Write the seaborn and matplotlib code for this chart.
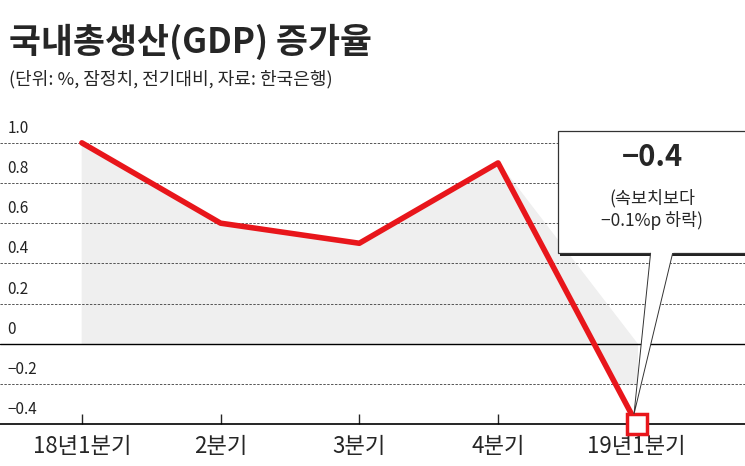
import matplotlib.pyplot as plt
import matplotlib.transforms as mtrans
from matplotlib.patches import Rectangle, Polygon
import numpy as np
import seaborn as sns

quarters = ['18년1분기', '2분기', '3분기', '4분기', '19년1분기']
growth = [1.0, 0.6, 0.5, 0.9, -0.4]
yticks = [1.0, 0.8, 0.6, 0.4, 0.2, 0, -0.2, -0.4]
ytick_labels = ['1.0', '0.8', '0.6', '0.4', '0.2', '0', '−0.2', '−0.4']

sns.set_style('white')
plt.rcParams['font.family'] = ['Noto Sans CJK KR', 'DejaVu Sans']
plt.rcParams['axes.unicode_minus'] = False

fig = plt.figure(figsize=(7.45, 4.66), dpi=100)
ax = fig.add_axes([0, 0.09, 1, 0.638])
x = np.arange(len(quarters))
y = np.array(growth)

# grey fill under the line, plus the small piece below zero at the end
ax.fill_between(x, np.maximum(y, 0), 0, color='#efefef', zorder=0,
                interpolate=True)
yy = np.array([-0.2, 0])
xx = np.interp(yy, y[3:][::-1], x[3:][::-1])
ax.fill_betweenx(yy, xx, x[-1], color='#efefef', zorder=0)

for v in yticks:
    if v == 0:
        ax.axhline(v, color='black', lw=1.0, zorder=1)
    elif v != -0.4:
        ax.axhline(v, color='#555555', lw=0.7, ls=(0, (2.5, 1.5)), zorder=1)

trans = mtrans.blended_transform_factory(ax.transAxes, ax.transData)
for v, lab in zip(yticks, ytick_labels):
    ax.text(0.01, v + 0.03, lab, transform=trans, fontsize=11,
            va='bottom', ha='left', color='#222222')

sns.lineplot(x=x, y=y, ax=ax, color='#e8161b', lw=4, zorder=3)
ax.plot(x[-1], y[-1], marker='s', ms=14, mfc='white', mec='#e8161b',
        mew=2.5, zorder=4, clip_on=False)

ax.set_xlim(-0.59, 4.78)
ax.set_ylim(-0.4, 1.08)
ax.set_yticks([])
ax.set_xticks(x)
ax.set_xticklabels(quarters, fontsize=16)
ax.tick_params(axis='x', direction='in', length=7, width=1, pad=8,
               bottom=True)
for s in ['left', 'right', 'top']:
    ax.spines[s].set_visible(False)
ax.spines['bottom'].set_color('black')
ax.spines['bottom'].set_linewidth(1.2)

# callout box
ax.add_patch(Rectangle((3.45, 0.435), 1.5, 0.61, fc='#222222', ec='none',
                       zorder=5, clip_on=False))
ax.add_patch(Rectangle((3.43, 0.45), 1.5, 0.61, fc='white', ec='#333333',
                       lw=0.9, zorder=6, clip_on=False))
ax.add_patch(Polygon([(4.1, 0.455), (4.26, 0.455), (3.98, -0.35)],
                     closed=True, fc='white', ec='#333333', lw=0.7,
                     zorder=7))
ax.plot([4.1, 4.26], [0.455, 0.455], color='white', lw=1.5, zorder=8)
ax.text(4.11, 0.93, '−0.4', ha='center', va='center', fontsize=21,
        fontweight='bold', zorder=9)
ax.text(4.11, 0.67, '(속보치보다\n−0.1%p 하락)', ha='center', va='center',
        fontsize=12.5, zorder=9, linespacing=1.25)

fig.text(0.012, 0.91, '국내총생산(GDP) 증가율', fontsize=25,
         fontweight='heavy', va='center')
fig.text(0.012, 0.83, '(단위: %, 잠정치, 전기대비, 자료: 한국은행)',
         fontsize=13, va='center')

fig.savefig('out.png', dpi=100)
